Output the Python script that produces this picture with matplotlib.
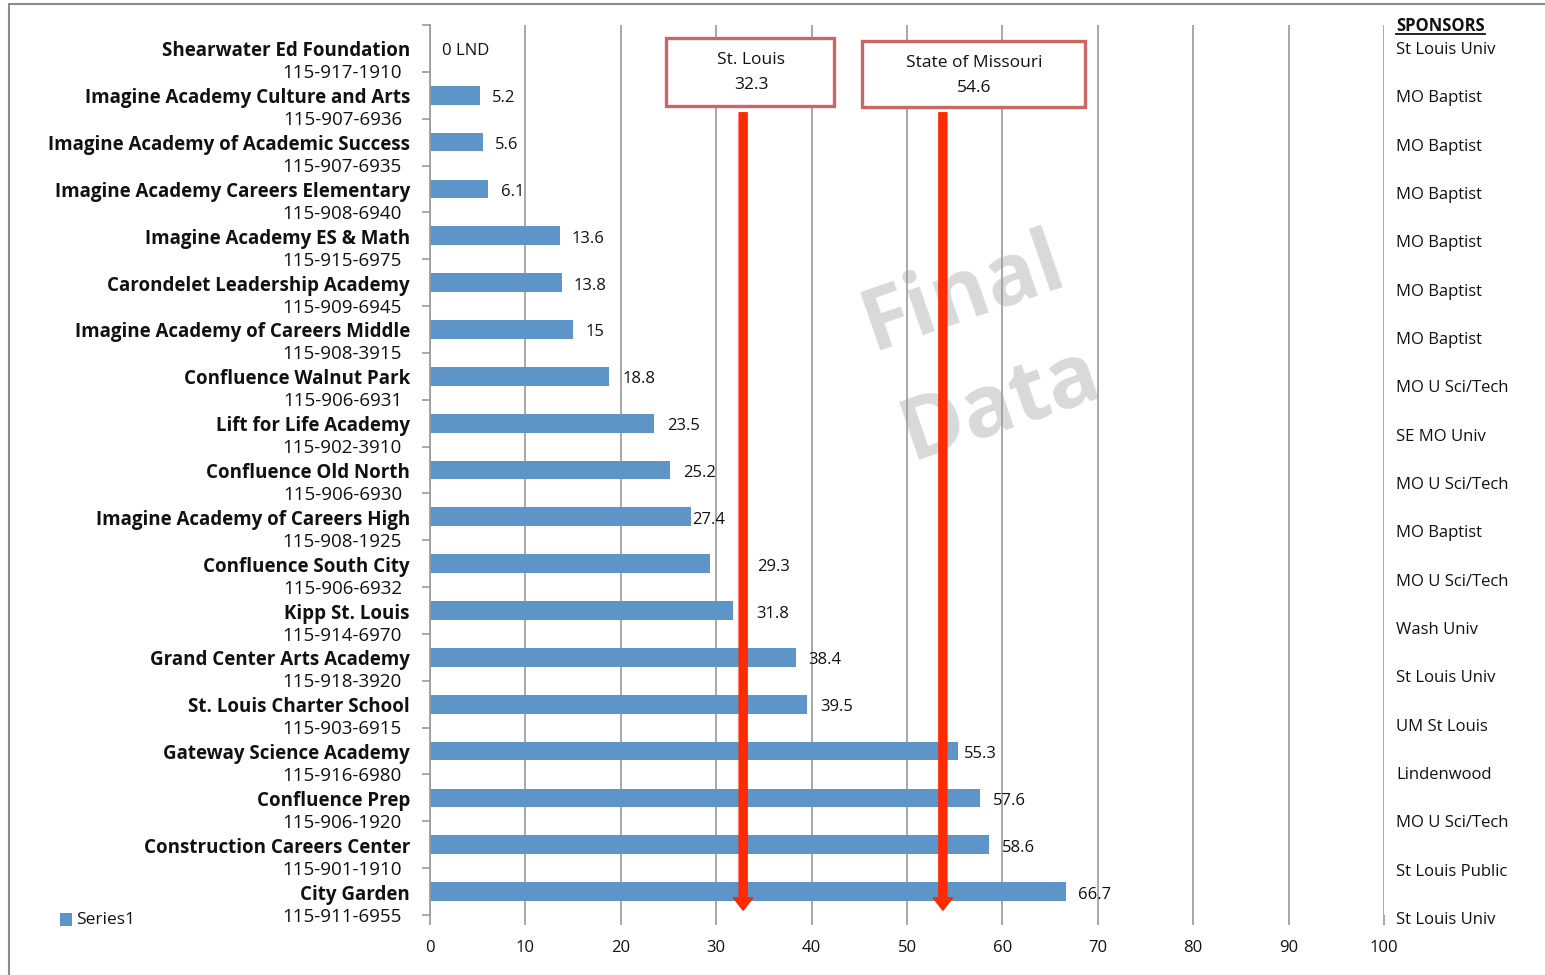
import matplotlib.pyplot as plt
from matplotlib.patches import Rectangle, FancyArrowPatch, ArrowStyle
from matplotlib.lines import Line2D
from matplotlib.transforms import blended_transform_factory

# chart data, top to bottom
schools = [
    'Shearwater Ed Foundation', 'Imagine Academy Culture and Arts',
    'Imagine Academy of Academic Success', 'Imagine Academy Careers Elementary',
    'Imagine Academy ES & Math', 'Carondelet Leadership Academy',
    'Imagine Academy of Careers Middle', 'Confluence Walnut Park',
    'Lift for Life Academy', 'Confluence Old North',
    'Imagine Academy of Careers High', 'Confluence South City',
    'Kipp St. Louis', 'Grand Center Arts Academy', 'St. Louis Charter School',
    'Gateway Science Academy', 'Confluence Prep', 'Construction Careers Center',
    'City Garden',
]
codes = [
    '115-917-1910', '115-907-6936', '115-907-6935', '115-908-6940',
    '115-915-6975', '115-909-6945', '115-908-3915', '115-906-6931',
    '115-902-3910', '115-906-6930', '115-908-1925', '115-906-6932',
    '115-914-6970', '115-918-3920', '115-903-6915', '115-916-6980',
    '115-906-1920', '115-901-1910', '115-911-6955',
]
scores = [0, 5.2, 5.6, 6.1, 13.6, 13.8, 15, 18.8, 23.5, 25.2, 27.4, 29.3,
          31.8, 38.4, 39.5, 55.3, 57.6, 58.6, 66.7]
score_labels = ['0 LND', '5.2', '5.6', '6.1', '13.6', '13.8', '15', '18.8',
                '23.5', '25.2', '27.4', '29.3', '31.8', '38.4', '39.5',
                '55.3', '57.6', '58.6', '66.7']
sponsors = [
    'St Louis Univ', 'MO Baptist', 'MO Baptist', 'MO Baptist', 'MO Baptist',
    'MO Baptist', 'MO Baptist', 'MO U Sci/Tech', 'SE MO Univ', 'MO U Sci/Tech',
    'MO Baptist', 'MO U Sci/Tech', 'Wash Univ', 'St Louis Univ', 'UM St Louis',
    'Lindenwood', 'MO U Sci/Tech', 'St Louis Public', 'St Louis Univ',
]
benchmarks = ['St. Louis', 'State of Missouri']
benchmark_values = [32.3, 54.6]

# label nudges in pixels (the original labels were moved by hand in a few rows)
label_gap = [12, 12, 12, 13, 12, 12, 12, 13, 13, 13, 1, 48, 23, 12, 13, 6, 13, 13, 12]
# the hand-drawn arrows sit a little off their values
arrow_shift = [5, -8]

W, H = 1545, 975
def fx(px):
    return px / W
def fy(py):
    return 1 - py / H

plt.rcParams['font.family'] = ['Open Sans', 'DejaVu Sans']
BAR = '#5E95C9'
GRID = '#9a9a9a'
RED = '#FF2A00'
INK = '#111111'

fig = plt.figure(figsize=(W / 100, H / 100), dpi=100)
ax = fig.add_axes([fx(430), fy(915), fx(1384) - fx(430), fy(25) - fy(915)])

n = len(scores)
ypos = list(range(n))
ax.barh(ypos, scores, height=0.4, color=BAR, zorder=2)
ax.set_xlim(0, 100)
ax.set_ylim(n - 0.5, -0.5)

ax.set_xticks(range(0, 101, 10))
ax.tick_params(axis='x', direction='out', length=7, color=GRID, width=1.2,
               labelsize=12, pad=11, labelcolor=INK)
ax.set_yticks([])
ax.set_yticks([i - 0.5 for i in range(n + 1)], minor=True)
ax.tick_params(axis='y', which='minor', direction='out', length=6, color=GRID, width=1.2)
ax.grid(axis='x', color=GRID, linewidth=1.2)
ax.set_axisbelow(True)
for s in ['top', 'right', 'bottom']:
    ax.spines[s].set_visible(False)
ax.spines['left'].set_color(GRID)
ax.spines['left'].set_linewidth(1.2)

px_per_unit = (1384 - 430) / 100
row_px = 890 / n
dy = 3 / row_px  # text sits a touch below the bar centre
for i, (v, lab) in enumerate(zip(scores, score_labels)):
    ax.text(v + label_gap[i] / px_per_unit, i + dy, lab, va='center', ha='left',
            fontsize=12, color=INK, zorder=4)

# two-line category labels
lab_tr = blended_transform_factory(fig.transFigure, ax.transData)
for i, (name, code) in enumerate(zip(schools, codes)):
    ax.text(fx(410), i + dy, name, transform=lab_tr, ha='right', va='center',
            fontsize=13.5, fontweight='bold', color=INK, clip_on=False)
    ax.text(fx(402), i + dy + 0.47, code, transform=lab_tr, ha='right', va='center',
            fontsize=13.5, color=INK, clip_on=False)

# watermark
ax.text(fx(982), fy(350), 'Final\nData', transform=fig.transFigure,
        ha='center', va='center', rotation=19, fontsize=62, fontweight='bold',
        color='#d9d9d9', linespacing=1.45, zorder=0.1)

# benchmark arrows and boxes
arr_style = ArrowStyle.Simple(head_length=9, head_width=14, tail_width=5.8)
arr_tr = blended_transform_factory(ax.transData, ax.transAxes)
boxes = [(666, 38, 834, 106), (862, 41, 1085, 107)]
for name, val, shift, (x0, y0, x1, y1) in zip(benchmarks, benchmark_values,
                                              arrow_shift, boxes):
    xa = val + shift / px_per_unit
    arrow = FancyArrowPatch((xa, 1 - (110 - 25) / 890), (xa, 1 - (913 - 25) / 890),
                            mutation_scale=1, arrowstyle=arr_style, color=RED,
                            zorder=5, transform=arr_tr)
    ax.add_patch(arrow)
    fig.add_artist(Rectangle((fx(x0), fy(y1)), fx(x1) - fx(x0), fy(y0) - fy(y1),
                             transform=fig.transFigure, facecolor='white',
                             edgecolor='#CD6561', linewidth=2.4, zorder=6))
    cx = fx((x0 + x1) / 2 + 1)
    fig.text(cx, fy(y0 + 22), name, ha='center', va='center', fontsize=12.5,
             color=INK, zorder=7)
    fig.text(cx, fy(y0 + 47), f'{val}', ha='center', va='center', fontsize=12.5,
             color=INK, zorder=7)

# sponsor column
hdr = fig.text(fx(1396), fy(26), 'SPONSORS', ha='left', va='center', fontsize=12,
               fontweight='bold', color=INK)
fig.canvas.draw()
bb = hdr.get_window_extent()
fig.add_artist(Line2D([bb.x0 / W, bb.x1 / W], [fy(34), fy(34)],
                      transform=fig.transFigure, color=INK, linewidth=1.3))
step = (918 - 48) / (len(sponsors) - 1)
for i, sp in enumerate(sponsors):
    fig.text(fx(1396), fy(50 + i * step), sp, ha='left', va='center',
             fontsize=12, color=INK)

# legend
fig.add_artist(Rectangle((fx(60), fy(926)), fx(72) - fx(60), fy(913) - fy(926),
                         transform=fig.transFigure, facecolor=BAR, edgecolor='none'))
fig.text(fx(76), fy(920), 'Series1', ha='left', va='center', fontsize=12.5,
         color=INK)

# outer chart frame
fig.add_artist(Rectangle((fx(9), fy(990)), 1.2, fy(4) - fy(990),
                         transform=fig.transFigure, facecolor='none',
                         edgecolor='#8c8c8c', linewidth=1.5))

fig.savefig('out.png', dpi=100)
